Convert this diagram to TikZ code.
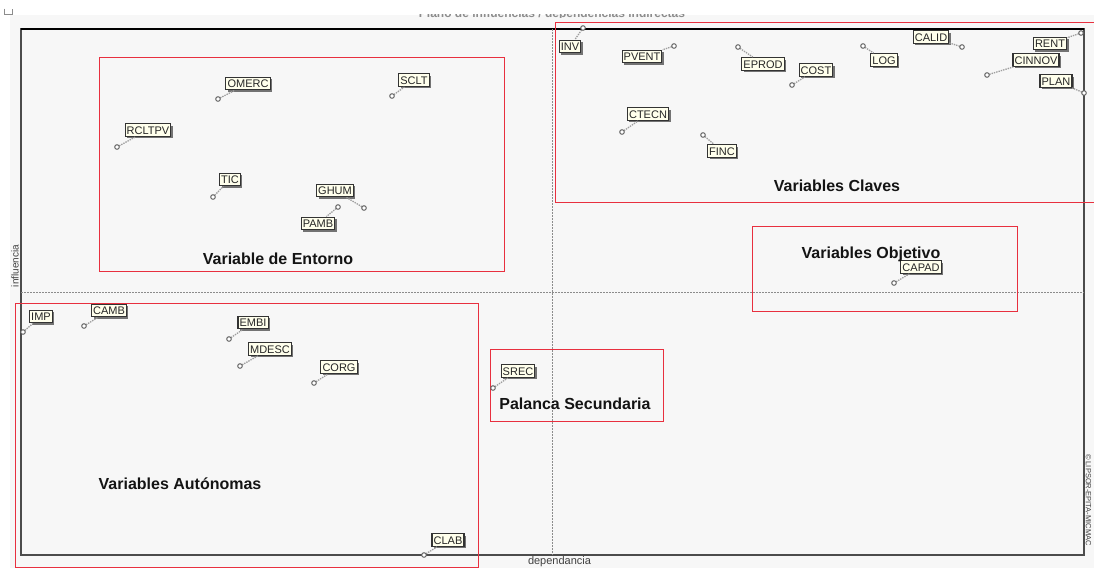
\documentclass[tikz,border=0pt]{standalone}
\usepackage{fontspec}
\setmainfont{Liberation Sans}
\usetikzlibrary{shadows}
\definecolor{panel}{HTML}{F7F7F7}
\definecolor{zone}{HTML}{E8303F}
\definecolor{tag}{HTML}{FFFFEC}

% one variable of the plane: marker, tag and dotted leader between them
\newcommand{\plotvar}[5]{%
  \coordinate (p#1) at (#2,#3);
  \node[vartag] (#1) at (#4,#5) {#1};
  \draw[leader] (p#1) -- (#1);
  \node[varpt] (m#1) at (p#1) {};}

\begin{document}
\begin{tikzpicture}[x=1pt,y=-1pt,
  zonebox/.style={draw=zone, line width=0.8pt},
  zonetitle/.style={font=\fontsize{16}{18}\selectfont\bfseries, text=black!92, inner sep=0pt, anchor=base},
  varpt/.style={circle, draw=black!65, fill=white, minimum size=4.6pt, inner sep=0pt, line width=0.9pt},
  vartag/.style={draw=black!80, fill=tag, line width=1.1pt, font=\fontsize{11}{12}\selectfont,
    text=black!85, inner xsep=1.6pt, inner ysep=2.4pt, text height=8pt, text depth=0pt,
    drop shadow={shadow xshift=2pt, shadow yshift=-2pt, fill=black!55, opacity=1}},
  leader/.style={draw=black!38, line width=1.3pt, dash pattern=on 1.4pt off 1pt},
  midline/.style={draw=black!45, line width=0.8pt, dash pattern=on 1.5pt off 1.5pt},
  axislabel/.style={font=\fontsize{10.5}{12}\selectfont, text=black!75, inner sep=0pt},
]
\useasboundingbox (0,0) rectangle (1094,568);

% window background and corner icon
\fill[panel] (10,15) rectangle (1094,568);
\draw[black!45, line width=0.8pt] (4,8.5) -- (4,14.5) -- (12.5,14.5) -- (12.5,8.5);

% title, cut by the window edge
\begin{scope}
  \clip (380,14.2) rectangle (730,17.5);
  \node[font=\fontsize{12}{14}\selectfont\bfseries, text=black!45, anchor=base] (plotTitle)
    at (552,17) {Plano de influencias / dependencias indirectas};
\end{scope}

% plot frame and mean axes
\draw[black!70, line width=1.3pt] (21,29) rectangle (1084,555);
\draw[black, line width=1.3pt] (21,29) -- (1084,29);
\draw[midline] (552,29) -- (552,555);
\draw[midline] (21,292) -- (1084,292);

% zones
\draw[zonebox] (99,57) rectangle (504,271);
\draw[zonebox] (1094,22) -- (555,22) -- (555,202) -- (1094,202);
\draw[zonebox] (752,226) rectangle (1017,311);
\draw[zonebox] (15,303) rectangle (478,567);
\draw[zonebox] (490,349) rectangle (663,421);

% variables
\plotvar{INV}{583}{28}{570}{46.5}
\plotvar{PVENT}{674}{46}{642}{56.5}
\plotvar{EPROD}{738}{47}{763}{64}
\plotvar{COST}{792}{85}{816}{70}
\plotvar{LOG}{863}{46}{884}{60}
\plotvar{CALID}{962}{47}{931}{37}
\plotvar{RENT}{1081}{33}{1050}{43.5}
\plotvar{CINNOV}{987}{75}{1036}{60}
\plotvar{PLAN}{1084}{93}{1056}{81}
\plotvar{CTECN}{622}{132}{648}{114}
\plotvar{FINC}{703}{135}{722}{151}
\plotvar{OMERC}{218}{99}{248}{83.5}
\plotvar{SCLT}{392}{96}{414}{80}
\plotvar{RCLTPV}{117}{147}{148}{130}
\plotvar{TIC}{213}{197}{230}{179.5}
\plotvar{GHUM}{364}{208}{335}{190.5}
\plotvar{PAMB}{338}{207}{318}{223.5}
\plotvar{IMP}{23}{332}{41}{316.5}
\plotvar{CAMB}{84}{326}{109}{310.5}
\plotvar{EMBI}{229}{339}{253}{322.5}
\plotvar{MDESC}{240}{366}{270}{349}
\plotvar{CORG}{314}{383}{339}{367}
\plotvar{SREC}{493}{388}{518}{371}
\plotvar{CAPAD}{894}{283}{921}{267}
\plotvar{CLAB}{424}{555}{448}{540}

% zone titles
\node[zonetitle] (tEntorno) at (278,264) {Variable de Entorno};
\node[zonetitle] (tClaves) at (837,191) {Variables Claves};
\node[zonetitle] (tObjetivo) at (871,258) {Variables Objetivo};
\node[zonetitle] (tAutonomas) at (180,489) {Variables Autónomas};
\node[zonetitle] (tPalanca) at (575,409.5) {Palanca Secundaria};

% axis captions and credit
\node[axislabel, rotate=90, font=\fontsize{10}{12}\selectfont] (yCap) at (15,266) {influencia};
\node[axislabel, font=\fontsize{11}{12}\selectfont] (xCap) at (559.5,562) {dependancia};
\node[axislabel, rotate=-90, font=\fontsize{7.5}{9}\selectfont] (credit) at (1088.5,500) {© LIPSOR-EPITA-MICMAC};
\end{tikzpicture}
\end{document}
